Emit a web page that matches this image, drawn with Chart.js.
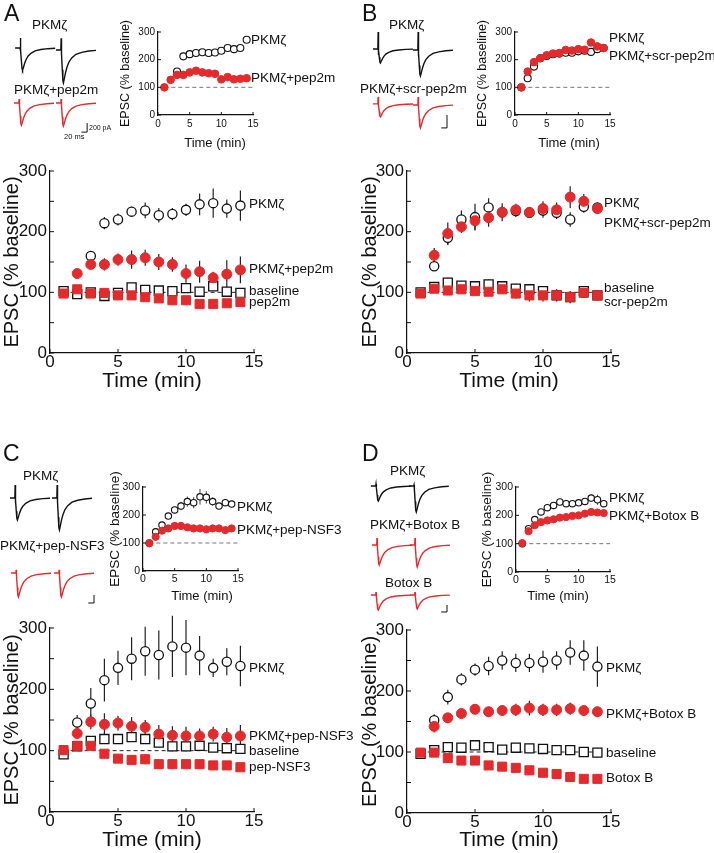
<!DOCTYPE html>
<html><head><meta charset="utf-8">
<script src="https://cdn.jsdelivr.net/npm/chart.js@4.4.1/dist/chart.umd.min.js"></script>
<style>
html,body{margin:0;padding:0;background:#fff;}
#fig{position:relative;width:714px;height:853px;overflow:hidden;font-family:'Liberation Sans',Arial,Helvetica,sans-serif;color:#111;}
#fig canvas{position:absolute;}
.lbl{position:absolute;white-space:nowrap;line-height:1;transform:translateY(-50%);}
.ctr{transform:translate(-50%,-50%);}
</style></head><body><div id="fig"></div>
<script>
// ---------------- DATA ----------------
const minutes = [1,2,3,4,5,6,7,8,9,10,11,12,13,14];

// Panel A main
const aPKM      = [null,null,160,214,220,233,235,227,229,236,245,247,238,243];
const aPKMErr   = [0,0,5,10,10,8,13,12,10,10,18,24,15,25];
const aPKMpep   = [null,131,146,146,154,154,157,150,146,131,134,124,130,137];
const aPKMpepErr= [0,3,7,10,10,15,13,13,12,15,18,10,23,22];
const aBase     = [102,97,100,94,99,108,104,103,102,107,101,110,101,99];
const aBaseErr  = [3,4,3,4,3,4,4,4,4,5,4,5,4,4];
const aPep      = [98,105,98,99,95,95,92,90,87,87,81,81,82,84];
const aPepErr   = [3,3,3,3,3,3,3,3,3,3,3,3,3,3];
// Panel A inset
const iaPKM     = [null,null,157,212,220,224,227,224,226,232,242,238,242,272];
const iaPKMErr  = [0,0,3,3,3,3,4,3,3,4,8,5,8,10];
const iaPKMpep  = [100,127,145,145,154,160,154,151,149,129,137,129,131,133];
const iaPKMpepErr=[0,3,3,3,4,8,5,3,3,3,4,3,5,3];

// Panel B main
const bPKM      = [null,143,190,220,224,240,232,234,231,235,231,220,241,240];
const bPKMErr   = [0,5,12,15,22,15,10,10,8,12,10,12,10,8];
const bPKMscr   = [null,161,197,208,218,223,232,236,232,238,236,257,250,238];
const bPKMscrErr= [0,12,18,10,15,15,15,10,8,12,12,18,12,8];
const bBase     = [100,109,116,111,110,113,110,106,105,102,95,92,102,95];
const bBaseErr  = [3,6,8,6,8,8,6,8,8,8,8,10,8,8];
const bScr      = [98,106,103,105,102,101,105,98,95,95,95,92,99,95];
const bScrErr   = [3,5,5,5,6,6,6,8,10,10,10,8,8,8];
// Panel B inset
const ibPKM     = [100,133,175,205,213,220,222,225,225,230,232,228,238,242];
const ibPKMErr  = [0,3,4,5,5,5,5,5,5,6,6,6,8,6];
const ibPKMscr  = [100,157,191,205,216,222,224,235,233,238,236,262,248,242];
const ibPKMscrErr=[0,5,6,5,5,5,5,6,6,6,6,10,8,5];

// Panel C main
const cPKM      = [null,146,177,215,235,250,262,256,270,268,255,235,245,238];
const cPKMErr   = [0,12,25,35,28,35,40,40,50,45,32,15,22,33];
const cPKMnsf   = [null,128,147,143,145,140,138,127,125,124,124,127,122,124];
const cPKMnsfErr= [0,8,12,18,12,15,12,15,15,15,12,12,15,18];
const cBase     = [94,107,116,119,119,122,119,113,107,107,108,105,104,103];
const cBaseErr  = [3,5,6,8,6,8,6,8,8,8,8,6,6,6];
const cNsf      = [101,108,108,95,87,85,86,78,78,78,78,76,76,73];
const cNsfErr   = [3,5,5,6,6,8,8,6,8,6,6,6,6,5];
// Panel C inset
const icPKM     = [100,140,164,196,218,232,248,244,265,263,248,232,244,239];
const icPKMErr  = [0,6,8,10,12,15,18,20,28,22,15,10,10,10];
const icPKMnsf  = [99,122,144,152,161,161,156,152,152,149,152,152,146,152];
const icPKMnsfErr=[0,3,4,4,4,4,4,4,4,4,4,4,6,4];

// Panel D main
const dPKM      = [null,152,190,219,235,241,250,246,246,248,250,263,258,240];
const dPKMErr   = [0,10,12,10,10,15,15,15,15,18,15,20,25,33];
const dPKMbot   = [null,142,156,163,170,166,168,169,172,169,169,171,168,166];
const dPKMbotErr= [0,10,8,8,8,8,8,10,12,10,10,10,8,8];
const dBase     = [97,103,108,107,111,108,104,107,106,105,103,103,100,99];
const dBaseErr  = [3,4,5,5,5,5,5,6,6,6,6,8,8,8];
const dBot      = [99,99,90,86,86,78,76,74,70,66,64,59,56,56];
const dBotErr   = [3,3,3,3,3,3,3,3,3,3,3,3,3,3];
// Panel D inset
const idPKM     = [100,153,185,212,227,235,247,241,241,244,249,261,255,241];
const idPKMErr  = [0,5,5,5,6,8,10,8,10,10,8,12,18,10];
const idPKMbot  = [102,144,165,176,182,186,192,194,198,200,206,212,210,208];
const idPKMbotErr=[0,3,3,3,3,3,3,3,3,3,3,4,4,3];

// Axis ticks
const timeTicks = [0,5,10,15];
const epscLabelTicks = [0,100,200,300];

// Example EPSC sweeps: shared waveform template (time in ms) + per-sweep values
const sweepTime  = [0,17,18,18.6,19.3,20,22,24,26,29,33,38,45,55,70,90,115,140];
const epscShape  = [0,0,0,0,0,-0.12,-0.6,-0.93,-1,-0.88,-0.7,-0.53,-0.37,-0.24,-0.13,-0.07,-0.03,-0.01];
const artShape   = [0,0,1,-0.35,0,0,0,0,0,0,0,0,0,0,0,0,0,0];
// sweeps: start (ms), baseline offset (pA), EPSC peak (pA), artifact (pA), colour key
const sweepsA = [[18,-622,490,220,'k'],[161,-667,730,260,'k'],[14,-1844,490,90,'r'],[161,-1844,510,90,'r']];
const sweepsB = [[21,-446,215,262,'k'],[161,-462,400,277,'k'],[21,-1292,200,108,'r'],[161,-1308,354,123,'r']];
const sweepsC = [[7,-700,550,325,'k'],[154,-700,800,325,'k'],[10.5,-2575,600,80,'r'],[161,-2575,600,80,'r']];
const sweepsD = [[20.5,-458,430,57,'k'],[153.5,-458,744,30,'k'],[24,-2145,572,200,'r'],[157,-2145,630,200,'r'],[20.5,-3575,430,86,'r'],[157,-3575,400,86,'r']];
// scale bars: [x end (ms), y top (pA)] for 20 ms / 200 pA
const barA = [270,-2289], barB = [280,-1462], barC = [301,-3125], barD = [287,-3861];

// ---------------- RENDERING ----------------
const RED = '#e32a2c', INK = '#111';
const FONT = "'Liberation Sans', Arial, Helvetica, sans-serif";
const fig = document.getElementById('fig');

const extras = {
  id: 'extras',
  beforeDatasetsDraw(chart) {
    const ctx = chart.ctx, xs = chart.scales.x, ys = chart.scales.y;
    chart.data.datasets.forEach(ds => {
      if (!ds.errors) return;
      ctx.save(); ctx.strokeStyle = ds.errColor || '#222'; ctx.lineWidth = ds.errWidth || 1.2;
      ds.data.forEach((p, i) => {
        const e = ds.errors[i];
        if (p.y == null || !e) return;
        const x = xs.getPixelForValue(p.x);
        ctx.beginPath();
        ctx.moveTo(x, ys.getPixelForValue(p.y - e));
        ctx.lineTo(x, ys.getPixelForValue(p.y + e));
        ctx.stroke();
      });
      ctx.restore();
    });
  },
  afterDraw(chart, args, opts) {
    const len = opts.tickLen; if (!len) return;
    const ctx = chart.ctx, xs = chart.scales.x, ys = chart.scales.y, a = chart.chartArea;
    ctx.save(); ctx.strokeStyle = INK; ctx.lineWidth = 1;
    xs.ticks.forEach(t => { const x = xs.getPixelForValue(t.value); ctx.beginPath(); ctx.moveTo(x, a.bottom); ctx.lineTo(x, a.bottom - len); ctx.stroke(); });
    ys.ticks.forEach(t => { const y = ys.getPixelForValue(t.value); ctx.beginPath(); ctx.moveTo(a.left, y); ctx.lineTo(a.left + len, y); ctx.stroke(); });
    ctx.restore();
  }
};

function mk(left, top, w, h) {
  const c = document.createElement('canvas');
  c.width = w; c.height = h; c.style.left = left + 'px'; c.style.top = top + 'px';
  fig.appendChild(c); return c;
}
function label(text, x, y, size, opts = {}) {
  const d = document.createElement('div');
  d.className = 'lbl' + (opts.center ? ' ctr' : '');
  d.textContent = text;
  d.style.left = x + 'px'; d.style.top = y + 'px'; d.style.fontSize = size + 'px';
  if (opts.color) d.style.color = opts.color;
  fig.appendChild(d);
}

function series(vals, errs, style) {
  return Object.assign({ data: minutes.map((t, i) => ({ x: t, y: vals[i] })), errors: errs, showLine: false }, style);
}
const openCircle = (r) => ({ pointStyle: 'circle', pointRadius: r, pointBackgroundColor: '#fff', pointBorderColor: INK, pointBorderWidth: 1.3 });
const redCircle  = (r) => ({ pointStyle: 'circle', pointRadius: r, pointBackgroundColor: RED, pointBorderColor: RED, pointBorderWidth: 1 });
const openSquare = (r) => ({ pointStyle: 'rect', pointRadius: r, pointBackgroundColor: '#fff', pointBorderColor: INK, pointBorderWidth: 1.3 });
const redSquare  = (r) => ({ pointStyle: 'rect', pointRadius: r, pointBackgroundColor: RED, pointBorderColor: RED, pointBorderWidth: 1 });
function dashed(from, to, color) {
  return { data: [{ x: from, y: 100 }, { x: to, y: 100 }], showLine: true, borderColor: color, borderWidth: 1, borderDash: [4, 3], pointRadius: 0 };
}

function plot(cfg, datasets) {
  const ct = cfg.T - cfg.padTop, cr = cfg.R + cfg.padRight;
  const cv = mk(cfg.cl, ct, cr - cfg.cl, cfg.cb - ct);
  new Chart(cv, {
    type: 'line',
    data: { datasets },
    options: {
      responsive: false, animation: false, devicePixelRatio: 1,
      layout: { padding: { left: 0, top: cfg.padTop, right: cfg.padRight, bottom: 0 } },
      plugins: { legend: { display: false }, tooltip: { enabled: false }, extras: { tickLen: cfg.tickLen } },
      scales: {
        x: {
          type: 'linear', min: 0, max: 15,
          afterFit: s => { s.height = cfg.cb - cfg.B; },
          afterBuildTicks: s => { s.ticks = timeTicks.map(v => ({ value: v })); },
          grid: { display: false, drawTicks: false },
          border: { display: true, color: INK, width: 1.2 },
          ticks: { font: { family: FONT, size: cfg.tickSize, lineHeight: 1 }, color: INK, padding: cfg.tickPadX, maxRotation: 0, autoSkip: false },
          title: { display: !!cfg.xTitle, text: 'Time (min)', font: { family: FONT, size: cfg.xTitleSize || 12, lineHeight: 1.2 }, padding: 0, color: INK }
        },
        y: {
          type: 'linear', min: 0, max: 300,
          afterFit: s => { s.width = cfg.L - cfg.cl; },
          afterBuildTicks: s => { const out = []; for (let v = 0; v <= 300; v += cfg.yStep) out.push({ value: v }); s.ticks = out; },
          grid: { display: false, drawTicks: false },
          border: { display: true, color: INK, width: 1.2 },
          ticks: { callback: v => epscLabelTicks.includes(v) ? String(v) : '', font: { family: FONT, size: cfg.tickSize, lineHeight: 1 }, color: INK, padding: cfg.tickPadY, autoSkip: false },
          title: { display: true, text: 'EPSC (% baseline)', font: { family: FONT, size: cfg.yTitleSize, lineHeight: 1.2 }, padding: 0, color: INK }
        }
      }
    },
    plugins: [extras]
  });
}

function traces(left, top, w, h, pAPerPx, sweeps, bar) {
  const msPerPx = 3.5;
  const cv = mk(left, top, w, h);
  const ds = sweeps.map(s => ({
    data: sweepTime.map((t, i) => ({ x: s[0] + t, y: s[1] + s[2] * epscShape[i] + s[3] * artShape[i] })),
    borderColor: s[4] === 'k' ? INK : RED, borderWidth: 1.4, pointRadius: 0, tension: 0, fill: false
  }));
  ds.push({ data: [{ x: bar[0] - 20, y: bar[1] - 200 }, { x: bar[0], y: bar[1] - 200 }, { x: bar[0], y: bar[1] }],
            borderColor: INK, borderWidth: 1, pointRadius: 0, tension: 0, fill: false });
  new Chart(cv, {
    type: 'line', data: { datasets: ds },
    options: {
      responsive: false, animation: false, devicePixelRatio: 1,
      layout: { padding: 0 },
      plugins: { legend: { display: false }, tooltip: { enabled: false } },
      scales: {
        x: { type: 'linear', display: false, min: 0, max: w * msPerPx },
        y: { type: 'linear', display: false, min: -h * pAPerPx, max: 0 }
      }
    }
  });
}

const mainCfg = { tickSize: 17, tickPadX: 1.2, tickPadY: 3, yTitleSize: 20, xTitleSize: 21, xTitle: true, yStep: 50, tickLen: 4, padTop: 21, padRight: 30 };
const insetAB = { tickSize: 10, tickPadX: 4, tickPadY: 3, yTitleSize: 12.5, xTitle: false, yStep: 100, tickLen: 3, padTop: 16, padRight: 12 };
const insetCD = { tickSize: 10.5, tickPadX: 2.7, tickPadY: 3, yTitleSize: 13.5, xTitle: false, yStep: 100, tickLen: 3, padTop: 20, padRight: 12 };

const mc = 4.6, mr = 5, ms = 6.4;
function mainSets(pkm, pkmE, pkmX, pkmXE, base, baseE, drug, drugE) {
  return [
    series(pkmX, pkmXE, redCircle(mr)),
    series(drug, drugE, redSquare(ms)),
    series(pkm, pkmE, openCircle(mc)),
    series(base, baseE, openSquare(ms)),
    dashed(1, 14, '#222')
  ];
}
function insetSets(pkm, pkmE, pkmX, pkmXE, oc, rc) {
  const s1 = series(pkmX, pkmXE, redCircle(rc)); s1.errWidth = 1; s1.errColor = '#444';
  const s2 = series(pkm, pkmE, openCircle(oc)); s2.errWidth = 1; s2.errColor = '#444'; s2.pointBorderWidth = 1.1;
  return [s1, s2, dashed(1, 15, '#777')];
}

// Main plots
plot(Object.assign({ L: 50, R: 254, T: 171, B: 353, cl: 0, cb: 394 }, mainCfg), mainSets(aPKM, aPKMErr, aPKMpep, aPKMpepErr, aBase, aBaseErr, aPep, aPepErr));
plot(Object.assign({ L: 407, R: 611, T: 171, B: 353, cl: 358, cb: 394 }, mainCfg), mainSets(bPKM, bPKMErr, bPKMscr, bPKMscrErr, bBase, bBaseErr, bScr, bScrErr));
plot(Object.assign({ L: 50, R: 254, T: 628, B: 812, cl: 0, cb: 853 }, mainCfg), mainSets(cPKM, cPKMErr, cPKMnsf, cPKMnsfErr, cBase, cBaseErr, cNsf, cNsfErr));
plot(Object.assign({ L: 407, R: 611, T: 630, B: 813, cl: 358, cb: 853 }, mainCfg), mainSets(dPKM, dPKMErr, dPKMbot, dPKMbotErr, dBase, dBaseErr, dBot, dBotErr));

// Insets
plot(Object.assign({ L: 158, R: 253, T: 32, B: 115, cl: 118, cb: 150 }, insetAB), insetSets(iaPKM, iaPKMErr, iaPKMpep, iaPKMpepErr, 3.5, 3.8));
plot(Object.assign({ L: 515, R: 610, T: 32, B: 115, cl: 475, cb: 150 }, insetAB), insetSets(ibPKM, ibPKMErr, ibPKMscr, ibPKMscrErr, 3.5, 3.8));
plot(Object.assign({ L: 143, R: 238, T: 487, B: 571, cl: 107, cb: 603 }, insetCD), insetSets(icPKM, icPKMErr, icPKMnsf, icPKMnsfErr, 3.2, 3.6));
plot(Object.assign({ L: 516, R: 610, T: 487, B: 572, cl: 479, cb: 603 }, insetCD), insetSets(idPKM, idPKMErr, idPKMbot, idPKMbotErr, 3.2, 3.6));

// Example traces
traces(10, 20, 110, 125, 22.2, sweepsA, barA);
traces(367, 20, 110, 125, 15.4, sweepsB, barB);
traces(8, 470, 100, 140, 25, sweepsC, barC);
traces(365, 470, 100, 150, 28.6, sweepsD, barD);

// ---------------- TEXT ----------------
const LS = 13.5;
// panel letters
label('A', 4, 13, 23); label('B', 362, 13, 23); label('C', 3, 453, 23); label('D', 362, 453, 23);
// trace labels
label('PKMζ', 32, 25, LS); label('PKMζ+pep2m', 14, 90, LS);
label('200 pA', 89, 127, 7); label('20 ms', 64, 137, 7.5);
label('PKMζ', 389, 25, LS); label('PKMζ+scr-pep2m', 360, 89, LS);
label('PKMζ', 23, 476, LS); label('PKMζ+pep-NSF3', 0, 546, LS);
label('PKMζ', 390, 471, LS); label('PKMζ+Botox B', 370, 525, LS); label('Botox B', 385, 583, LS);
// inset x titles
label('Time (min)', 215, 142, 13, { center: true });
label('Time (min)', 569, 142, 13, { center: true });
label('Time (min)', 202, 595, 13, { center: true });
label('Time (min)', 558, 595, 13, { center: true });
// inset series labels
label('PKMζ', 251, 40, LS); label('PKMζ+pep2m', 251, 78, LS);
label('PKMζ', 609, 38, LS); label('PKMζ+scr-pep2m', 609, 56, LS);
label('PKMζ', 237, 507, LS); label('PKMζ+pep-NSF3', 237, 530, LS);
label('PKMζ', 609, 498, LS); label('PKMζ+Botox B', 609, 516, LS);
// main series labels
label('PKMζ', 249, 204, LS); label('PKMζ+pep2m', 249, 269, LS); label('baseline', 249, 291, LS); label('pep2m', 249, 302, LS);
label('PKMζ', 604, 203, LS); label('PKMζ+scr-pep2m', 604, 223, LS); label('baseline', 604, 288, LS); label('scr-pep2m', 604, 302, LS);
label('PKMζ', 249, 668, LS); label('PKMζ+pep-NSF3', 249, 736, LS); label('baseline', 249, 751, LS); label('pep-NSF3', 249, 767, LS);
label('PKMζ', 606, 668, LS); label('PKMζ+Botox B', 606, 714, LS); label('baseline', 606, 753, LS); label('Botox B', 606, 778, LS);
</script>
</body></html>
